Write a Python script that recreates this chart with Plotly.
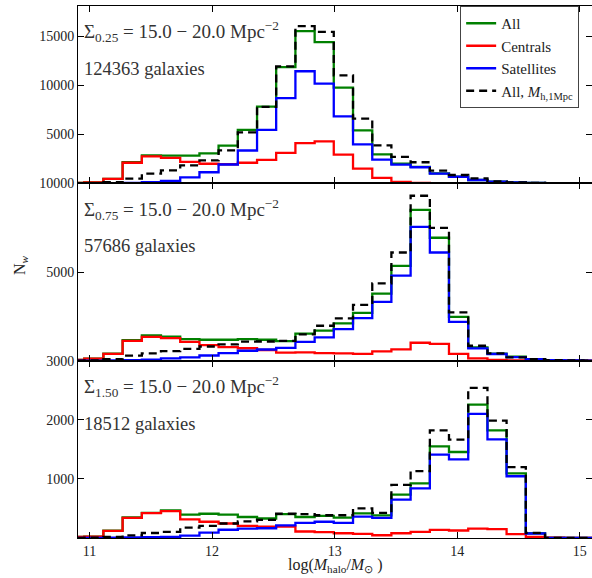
import plotly.graph_objects as go
from plotly.subplots import make_subplots

# Bin edges of log(M_halo/M_sun)
edges = [10.800, 10.957, 11.113, 11.270, 11.427, 11.583, 11.740, 11.897, 12.053, 12.210,
         12.367, 12.523, 12.680, 12.837, 12.993, 13.150, 13.307, 13.463, 13.620, 13.777,
         13.933, 14.090, 14.247, 14.403, 14.560, 14.717, 14.873, 15.030, 15.187, 15.343, 15.500]

# Panel 1: Sigma_0.25
all_top = [50, 100, 460, 2150, 2850, 2830, 2820, 3060, 3840, 5450, 7820, 11870, 15540, 14420, 9760,
           5400, 2960, 2010, 1680, 1020, 680, 340, 170, 100, 50, 20, 10, 5, 0, 0]
cen_top = [50, 100, 450, 2100, 2750, 2600, 2200, 2000, 1950, 2100, 2400, 3100, 4100, 4280, 2930,
           1500, 550, 150, 40, 15, 5, 0, 0, 0, 0, 0, 0, 0, 0, 0]
sat_top = [0, 0, 10, 50, 130, 260, 610, 1130, 1920, 3350, 5450, 8700, 11440, 10170, 6830,
           3980, 2410, 1900, 1640, 1000, 670, 340, 170, 100, 50, 20, 10, 5, 0, 0]
m1_top = [0, 30, 120, 480, 990, 1330, 1830, 2350, 3360, 5200, 7800, 11930, 16050, 15450, 11020,
          6600, 3880, 2700, 2150, 1290, 850, 510, 200, 100, 50, 20, 10, 5, 0, 0]

# Panel 2: Sigma_0.75
all_mid = [50, 120, 390, 1150, 1420, 1350, 1220, 1180, 1180, 1210, 1180, 1100, 1530, 1690, 2100,
           2700, 3780, 5340, 8500, 6930, 2470, 750, 400, 220, 90, 30, 10, 5, 0, 0]
cen_mid = [50, 120, 380, 1120, 1340, 1270, 1060, 880, 760, 700, 600, 450, 470, 420, 410,
           380, 520, 640, 1010, 950, 380, 130, 40, 15, 5, 0, 0, 0, 0, 0]
sat_mid = [0, 0, 10, 30, 60, 130, 180, 290, 420, 560, 630, 720, 1065, 1310, 1780,
           2400, 3310, 4800, 7540, 6100, 2190, 690, 375, 200, 90, 30, 10, 5, 0, 0]
m1_mid = [0, 20, 80, 280, 410, 540, 660, 800, 920, 1070, 1080, 1120, 1480, 1970, 2380,
          3150, 4360, 6100, 9300, 7490, 2720, 840, 410, 190, 90, 30, 10, 5, 0, 0]

# Panel 3: Sigma_1.50
all_bot = [20, 25, 125, 350, 425, 465, 395, 410, 395, 355, 330, 405, 355, 375, 345,
           418, 383, 735, 925, 1550, 1455, 2255, 1820, 1095, 80, 5, 0, 0, 0, 0]
cen_bot = [20, 25, 120, 340, 420, 455, 315, 275, 245, 205, 190, 195, 110, 100, 80,
           70, 47, 80, 105, 138, 127, 160, 150, 65, 20, 5, 0, 0, 0, 0]
sat_bot = [0, 0, 5, 10, 15, 20, 40, 90, 140, 160, 165, 215, 255, 275, 255,
           360, 340, 650, 840, 1410, 1330, 2100, 1670, 1045, 76, 3, 0, 0, 0, 0]
m1_bot = [0, 5, 20, 45, 85, 105, 175, 205, 245, 280, 305, 410, 405, 385, 385,
          500, 425, 900, 1130, 1820, 1665, 2540, 1985, 1200, 87, 3, 0, 0, 0, 0]

panel_labels = ["Σ<sub>0.25</sub> = 15.0 − 20.0 Mpc<sup>−2</sup>",
                "Σ<sub>0.75</sub> = 15.0 − 20.0 Mpc<sup>−2</sup>",
                "Σ<sub>1.50</sub> = 15.0 − 20.0 Mpc<sup>−2</sup>"]
galaxy_counts = ["124363 galaxies", "57686 galaxies", "18512 galaxies"]
series_names = ["All", "Centrals", "Satellites", "All, <i>M</i><sub>h,1Mpc</sub>"]
series_colors = ["#008000", "#ff0000", "#0000ff", "#000000"]

y_ranges = [[0, 18100], [0, 10000], [0, 3000]]
y_ticks = [[5000, 10000, 15000], [5000, 10000], [1000, 2000, 3000]]
x_ticks = [11, 12, 13, 14, 15]

panels = [(all_top, cen_top, sat_top, m1_top),
          (all_mid, cen_mid, sat_mid, m1_mid),
          (all_bot, cen_bot, sat_bot, m1_bot)]

fig = make_subplots(rows=3, cols=1, shared_xaxes=True, vertical_spacing=0)

for r, series in enumerate(panels, start=1):
    for k, vals in enumerate(series):
        dash = "8px,5px" if k == 3 else "solid"
        fig.add_trace(go.Scatter(
            x=edges, y=list(vals) + [vals[-1]], mode="lines", line_shape="hv",
            line=dict(color=series_colors[k], width=2.3, dash=dash),
            name=series_names[k], showlegend=(r == 1), hoverinfo="skip"),
            row=r, col=1)

axis_common = dict(showline=True, linecolor="black", linewidth=1, mirror="ticks",
                   ticks="inside", ticklen=6, tickcolor="black", tickwidth=1,
                   showgrid=False, zeroline=False)

for r in (1, 2, 3):
    fig.update_xaxes(range=[10.906, 15.1], tickvals=x_ticks, **axis_common, row=r, col=1)
    fig.update_yaxes(range=y_ranges[r - 1], tickvals=y_ticks[r - 1], tickformat="d",
                     **axis_common, row=r, col=1)

annos = []
for r in (1, 2, 3):
    sx = "x" if r == 1 else f"x{r}"
    sy = "y" if r == 1 else f"y{r}"
    annos.append(dict(text=panel_labels[r - 1], xref=f"{sx} domain", yref=f"{sy} domain",
                      x=0.008, y=0.855, xanchor="left", yanchor="middle", showarrow=False,
                      font=dict(size=19, color="#333")))
    annos.append(dict(text=galaxy_counts[r - 1], xref=f"{sx} domain", yref=f"{sy} domain",
                      x=0.008, y=0.645, xanchor="left", yanchor="middle", showarrow=False,
                      font=dict(size=18.5, color="#333")))

annos.append(dict(text="N<sub><i>w</i></sub>", xref="paper", yref="paper", x=-0.113, y=0.513,
                  xanchor="center", yanchor="middle", textangle=-90, showarrow=False,
                  font=dict(size=16, color="#222")))
annos.append(dict(text="log(<i>M</i><sub>halo</sub>/<i>M</i><sub>⊙</sub> )", xref="paper",
                  yref="paper", x=0.5, y=-0.052, xanchor="center", yanchor="middle",
                  showarrow=False, font=dict(size=16, color="#222")))

fig.update_layout(
    width=592, height=578,
    margin=dict(l=78, r=0, t=6, b=40),
    paper_bgcolor="white", plot_bgcolor="white",
    font=dict(family="Liberation Serif", size=14, color="#222"),
    annotations=annos,
    legend=dict(x=0.975, y=1.0, xanchor="right", yanchor="top",
                bgcolor="white", bordercolor="#444", borderwidth=1,
                font=dict(size=15, color="#222"), itemwidth=30,
                tracegroupgap=0),
)

fig.write_html("out.html", config={"displayModeBar": False},
               post_script="document.body.style.margin='0';document.body.style.overflow='hidden';")
